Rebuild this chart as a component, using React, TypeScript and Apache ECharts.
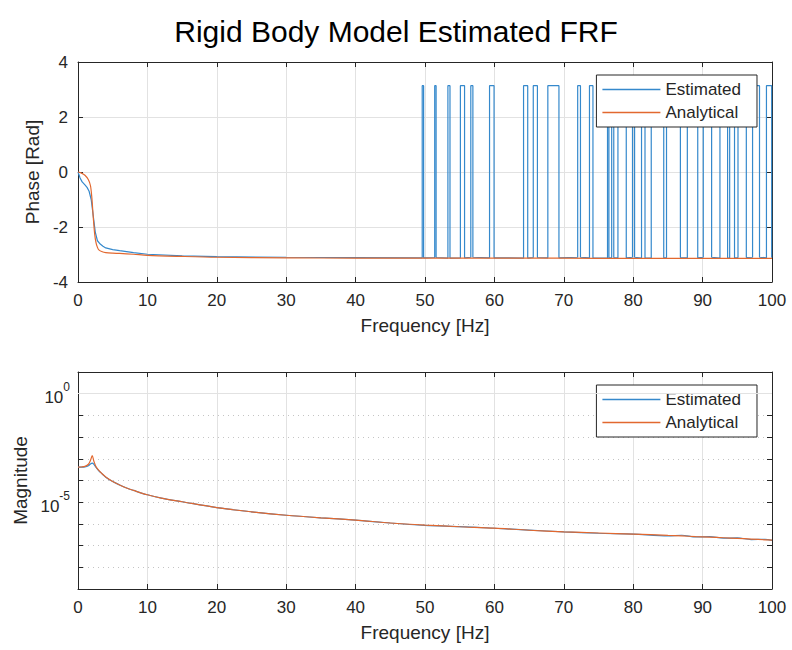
import React, { useEffect, useRef } from "react";
import * as echarts from "echarts";

const FONT = "'Liberation Sans', Arial, Helvetica, sans-serif";
const TEXT = "#262626";
const BLUE = "#3589cc";
const ORANGE = "#e2682f";
const GRID = "#e2e2e2";

// ---- Phase plot data ----
const PHASE_A_FREQ = [0, 0.5, 1, 1.5, 1.8, 2.0, 2.2, 2.4, 2.6, 2.8, 3.0, 3.5, 4, 5, 6, 8, 10, 15, 20, 30, 40, 50, 60, 70, 80, 90, 100];
const PHASE_A_VAL = [0, -0.04, -0.12, -0.28, -0.5, -0.95, -1.65, -2.25, -2.58, -2.74, -2.83, -2.9, -2.93, -2.95, -2.96, -2.99, -3.03, -3.07, -3.1, -3.12, -3.13, -3.13, -3.135, -3.135, -3.14, -3.14, -3.14];

const PHASE_E_FREQ = [0, 0.3, 0.6, 1.0, 1.3, 1.6, 1.9, 2.2, 2.5, 2.8, 3.2, 3.6, 4, 5, 6, 8, 10, 15, 20, 30, 40, 49.4];
const PHASE_E_VAL = [0, -0.22, -0.36, -0.47, -0.56, -0.7, -1.0, -1.6, -2.2, -2.5, -2.62, -2.7, -2.76, -2.82, -2.86, -2.93, -2.99, -3.05, -3.08, -3.1, -3.11, -3.12];

// wrapped-phase jumps of the estimate (start / end frequency of each jump to +pi)
const PULSE_START = [49.6, 51.4, 53.3, 55.1, 56.6, 59.3, 64.2, 65.6, 67.7, 72.0, 73.7, 76.3, 76.9, 77.8, 79.9, 81.2, 82.6, 84.8, 87.8, 90.1, 92.5, 93.9, 95.1, 97.2, 99.2];
const PULSE_END = [49.8, 51.6, 53.6, 55.7, 56.9, 59.95, 64.8, 66.2, 69.3, 72.4, 74.2, 76.5, 77.2, 79.0, 80.2, 81.7, 84.4, 86.8, 89.3, 91.3, 93.6, 94.6, 96.3, 98.2, 99.95];
const PULSE_BASE = [-3.12, -3.11, -3.13, -3.12, -3.1, -3.12, -3.13, -3.11, -3.12, -3.1, -3.12, -3.13, -3.11, -3.12, -3.1, -3.13, -3.12, -3.11, -3.12, -3.1, -3.13, -3.12, -3.11, -3.1, -3.12];
const PULSE_TOP = 3.14;

// ---- Magnitude plot data ----
const MAG_FREQ = [0, 0.5, 1, 1.5, 1.8, 2.05, 2.3, 2.6, 3, 3.5, 4, 5, 6, 7, 8, 10, 12, 15, 20, 25, 30, 35, 40, 45, 50, 55, 60, 65, 70, 75, 80, 85, 87, 89, 91, 93, 95, 97, 99, 100];
const MAG_ANALYTICAL = [4.1e-4, 4.2e-4, 4.5e-4, 5.6e-4, 8.5e-4, 1.4e-3, 7.5e-4, 4.3e-4, 2.9e-4, 2.0e-4, 1.45e-4, 9.0e-5, 6.2e-5, 4.5e-5, 3.5e-5, 2.2e-5, 1.55e-5, 1.05e-5, 5.6e-6, 3.6e-6, 2.5e-6, 1.9e-6, 1.5e-6, 1.1e-6, 8.8e-7, 7.4e-7, 6.4e-7, 5.1e-7, 4.3e-7, 3.8e-7, 3.4e-7, 2.95e-7, 2.8e-7, 2.6e-7, 2.45e-7, 2.3e-7, 2.15e-7, 2.0e-7, 1.85e-7, 1.8e-7];
const MAG_ESTIMATED = [4.1e-4, 4.1e-4, 4.2e-4, 4.8e-4, 5.8e-4, 6.3e-4, 5.5e-4, 4.0e-4, 2.8e-4, 2.0e-4, 1.42e-4, 8.9e-5, 6.2e-5, 4.5e-5, 3.5e-5, 2.2e-5, 1.55e-5, 1.05e-5, 5.6e-6, 3.6e-6, 2.5e-6, 1.9e-6, 1.5e-6, 1.1e-6, 8.6e-7, 7.5e-7, 6.3e-7, 5.2e-7, 4.3e-7, 3.7e-7, 3.4e-7, 2.8e-7, 3.0e-7, 2.5e-7, 2.6e-7, 2.2e-7, 2.25e-7, 1.9e-7, 1.95e-7, 1.75e-7];

const X_TICKS = { min: 0, max: 100, interval: 10 };
const PHASE_TICKS = { min: -4, max: 4, interval: 2 };
const MAG_RANGE = { min: 1e-9, max: 10, interval: 1 };
const MAG_MAJOR = [1, 1e-5];

function zip(xs: number[], ys: number[]) {
  return xs.map((x, i) => [x, ys[i]]);
}

function buildEstimatedPhase() {
  const pts = zip(PHASE_E_FREQ, PHASE_E_VAL);
  PULSE_START.forEach((s, i) => {
    const e = PULSE_END[i];
    const b = PULSE_BASE[i];
    pts.push([s, b], [s, PULSE_TOP], [e, PULSE_TOP], [e, b]);
  });
  pts.push([100, -3.12]);
  return pts;
}

export default function App() {
  const ref = useRef<HTMLDivElement>(null);
  useEffect(() => {
    if (!ref.current) return;
    const chart = echarts.init(ref.current, undefined, { renderer: "svg" });
    const tickLabel = { fontFamily: FONT, fontSize: 17, color: TEXT };
    const nameStyle = { fontFamily: FONT, fontSize: 19, color: TEXT };
    const axisLine = { show: true, onZero: false, lineStyle: { color: TEXT, width: 1 } };
    const axisTick = { show: true, inside: true, length: 5, lineStyle: { color: TEXT } };

    const xMain = (gi: number) => ({
      gridIndex: gi,
      type: "value",
      ...X_TICKS,
      position: "bottom",
      axisLine,
      axisTick,
      axisLabel: { ...tickLabel, margin: 10 },
      splitLine: { show: true, lineStyle: { color: GRID, width: 1 } },
      name: "Frequency [Hz]",
      nameLocation: "middle",
      nameGap: 34,
      nameTextStyle: nameStyle,
    });
    const xTop = (gi: number) => ({
      gridIndex: gi,
      type: "value",
      ...X_TICKS,
      position: "top",
      axisLine,
      axisTick,
      axisLabel: { show: false },
      splitLine: { show: false },
    });

    const legendBase = {
      data: ["Estimated", "Analytical"],
      orient: "vertical",
      right: 35,
      icon: "rect",
      itemWidth: 58,
      itemHeight: 1.5,
      itemGap: 6,
      padding: [6, 16, 6, 6],
      borderColor: TEXT,
      borderWidth: 1,
      backgroundColor: "#ffffff",
      textStyle: { fontFamily: FONT, fontSize: 17, color: TEXT, lineHeight: 17 },
    };

    const magLabel = (v: number) => {
      const e = Math.round(Math.log10(v));
      if (MAG_MAJOR.some((m) => Math.round(Math.log10(m)) === e)) return `{b|10}{s|${e}}`;
      return "";
    };

    const option: any = {
      animation: false,
      title: {
        text: "Rigid Body Model Estimated FRF",
        left: "center",
        top: 11,
        textStyle: { fontFamily: FONT, fontSize: 30, fontWeight: "normal", color: "#000" },
      },
      legend: [
        { ...legendBase, top: 75 },
        { ...legendBase, top: 385 },
      ],
      grid: [
        { left: 78, top: 62, width: 694, height: 220 },
        { left: 78, top: 372, width: 694, height: 217 },
      ],
      xAxis: [xMain(0), xTop(0), xMain(1), xTop(1)],
      yAxis: [
        {
          gridIndex: 0,
          type: "value",
          ...PHASE_TICKS,
          position: "left",
          axisLine,
          axisTick,
          axisLabel: { ...tickLabel, margin: 10 },
          splitLine: { show: true, lineStyle: { color: GRID, width: 1 } },
          name: "Phase [Rad]",
          nameLocation: "middle",
          nameGap: 25,
          nameTextStyle: nameStyle,
        },
        {
          gridIndex: 0,
          type: "value",
          ...PHASE_TICKS,
          position: "right",
          axisLine,
          axisTick,
          axisLabel: { show: false },
          splitLine: { show: false },
        },
        {
          gridIndex: 1,
          type: "log",
          logBase: 10,
          ...MAG_RANGE,
          position: "left",
          axisLine,
          axisTick,
          axisLabel: {
            ...tickLabel,
            margin: 8,
            formatter: magLabel,
            rich: {
              b: { fontFamily: FONT, fontSize: 17, color: TEXT, verticalAlign: "bottom", padding: [8, 0, 0, 0] },
              s: { fontFamily: FONT, fontSize: 12, color: TEXT, verticalAlign: "top", padding: [0, 0, 8, 0] },
            },
          },
          splitLine: { show: true, lineStyle: { color: "#c4c4c4", width: 1, type: [1, 4] } },
          name: "Magnitude",
          nameLocation: "middle",
          nameGap: 46,
          nameTextStyle: nameStyle,
        },
        {
          gridIndex: 1,
          type: "log",
          logBase: 10,
          ...MAG_RANGE,
          position: "right",
          axisLine,
          axisTick,
          axisLabel: { show: false },
          splitLine: { show: false },
        },
      ],
      series: [
        {
          name: "Estimated",
          type: "line",
          xAxisIndex: 0,
          yAxisIndex: 0,
          data: buildEstimatedPhase(),
          showSymbol: false,
          symbol: "none",
          lineStyle: { color: BLUE, width: 1.2 },
          itemStyle: { color: BLUE },
          z: 3,
        },
        {
          name: "Analytical",
          type: "line",
          xAxisIndex: 0,
          yAxisIndex: 0,
          data: zip(PHASE_A_FREQ, PHASE_A_VAL),
          showSymbol: false,
          symbol: "none",
          smooth: 0.3,
          lineStyle: { color: ORANGE, width: 1.2 },
          itemStyle: { color: ORANGE },
          z: 4,
        },
        {
          name: "majorGrid",
          type: "line",
          xAxisIndex: 2,
          yAxisIndex: 2,
          data: [],
          z: 1,
          markLine: {
            silent: true,
            symbol: "none",
            label: { show: false },
            lineStyle: { color: GRID, type: "solid", width: 1 },
            data: MAG_MAJOR.map((m) => ({ yAxis: m })),
          },
        },
        {
          name: "Estimated",
          type: "line",
          xAxisIndex: 2,
          yAxisIndex: 2,
          data: zip(MAG_FREQ, MAG_ESTIMATED),
          showSymbol: false,
          symbol: "none",
          smooth: 0.3,
          lineStyle: { color: BLUE, width: 1.2 },
          itemStyle: { color: BLUE },
          z: 3,
        },
        {
          name: "Analytical",
          type: "line",
          xAxisIndex: 2,
          yAxisIndex: 2,
          data: zip(MAG_FREQ, MAG_ANALYTICAL),
          showSymbol: false,
          symbol: "none",
          smooth: 0.3,
          lineStyle: { color: ORANGE, width: 1.2 },
          itemStyle: { color: ORANGE },
          z: 4,
        },
      ],
    };
    chart.setOption(option);
    return () => chart.dispose();
  }, []);
  return <div ref={ref} style={{ width: 792, height: 650, position: "absolute", left: 0, top: 0 }} />;
}
